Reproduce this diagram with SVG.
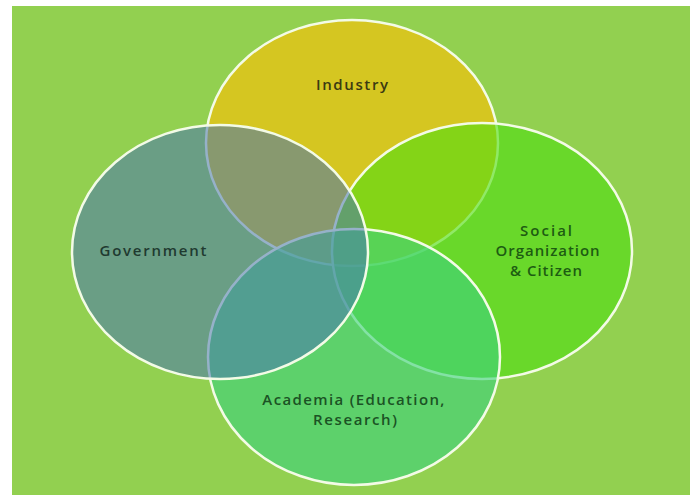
<svg xmlns="http://www.w3.org/2000/svg" width="693" height="495" viewBox="0 0 693 495">
  <style>
    .set { stroke: #f3fbe6; stroke-width: 2.5; }
    .label { font-family: "Open Sans", "Liberation Sans", sans-serif; font-size: 15px; font-weight: 600; text-anchor: middle; }
  </style>
  <!-- page -->
  <rect x="0" y="0" width="693" height="495" fill="#ffffff"/>
  <rect x="12" y="6" width="678" height="489" fill="#92d050"/>

  <g id="industry">
    <ellipse class="set" cx="352" cy="143" rx="146" ry="123" fill="#e0c419" fill-opacity="0.85"/>
    <text class="label" x="352" y="90" fill="#3b3a12" textLength="72" lengthAdjust="spacing">Industry</text>
  </g>

  <g id="social">
    <ellipse class="set" cx="482" cy="251" rx="150" ry="128" fill="#4fdd11" fill-opacity="0.6"/>
    <text class="label" fill="#1d5c12">
      <tspan x="549" y="236" textLength="52" lengthAdjust="spacing">Social</tspan>
      <tspan x="550" y="256" textLength="104" lengthAdjust="spacing">Organization</tspan>
      <tspan x="546" y="276" textLength="72" lengthAdjust="spacing">&amp; Citizen</tspan>
    </text>
  </g>

  <g id="academia">
    <ellipse class="set" cx="354" cy="357" rx="146" ry="128" fill="#3ed27c" fill-opacity="0.62"/>
    <text class="label" fill="#1b5324">
      <tspan x="356" y="405" textLength="182" lengthAdjust="spacing">Academia (Education,</tspan>
      <tspan x="355" y="425" textLength="84" lengthAdjust="spacing">Research)</tspan>
    </text>
  </g>

  <g id="government">
    <ellipse class="set" cx="220" cy="252" rx="148" ry="127" fill="#4975b0" fill-opacity="0.55"/>
    <text class="label" x="153" y="256" fill="#1f3a30" textLength="107" lengthAdjust="spacing">Government</text>
  </g>

  <g id="connectors"></g>
</svg>
